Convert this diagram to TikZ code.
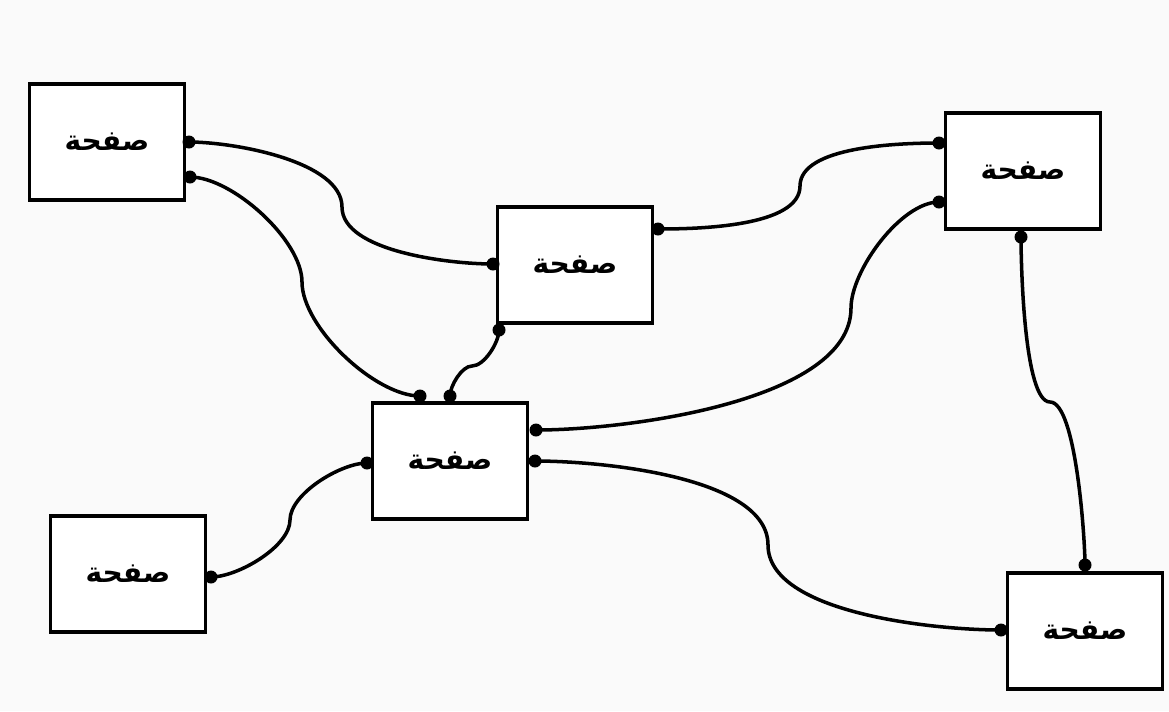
\documentclass[tikz,border=0pt]{standalone}
\usepackage{fontspec}
\newfontfamily\arabicfont[Script=Arabic]{DejaVu Sans}
\TeXXeTstate=1
\newcommand{\pagetxt}{{\arabicfont\bfseries\beginR صفحة\endR}}
\tikzset{
  pagebox/.style={draw,fill=white,line width=2pt,minimum width=3.1cm,minimum height=2.32cm,font=\fontsize{16}{19}\selectfont},
  link/.style={line width=2pt,looseness=0.7},
  port/.style={fill=black},
}
\begin{document}
\begin{tikzpicture}[x=0.02cm,y=-0.02cm]
			\fill[gray!4] (0,0) rectangle (1169,711);
			\useasboundingbox (0,0) rectangle (1169,711);
			% pages
			\node[pagebox] (A) at (107,142) {\pagetxt};
			\node[pagebox] (B) at (575,265) {\pagetxt};
			\node[pagebox] (C) at (450,461) {\pagetxt};
			\node[pagebox] (D) at (1023,171) {\pagetxt};
			\node[pagebox] (E) at (128,574) {\pagetxt};
			\node[pagebox] (F) at (1085,631) {\pagetxt};
			% ports
			\coordinate (a1) at (189,142); \coordinate (a2) at (190,177);
			\coordinate (b1) at (493,264); \coordinate (b2) at (499,330); \coordinate (b3) at (658,229);
			\coordinate (c1) at (420,396); \coordinate (c2) at (450,396);
			\coordinate (c3) at (536,430); \coordinate (c4) at (535,461); \coordinate (c5) at (367,463);
			\coordinate (d1) at (939,143); \coordinate (d2) at (939,202); \coordinate (d3) at (1021,237);
			\coordinate (e1) at (211,577);
			\coordinate (f1) at (1085,565); \coordinate (f2) at (1001,630);
			% bends
			\coordinate (m1) at (342,207); \coordinate (m2) at (302,282);
			\coordinate (m3) at (472,366); \coordinate (m4) at (800,186);
			\coordinate (m5) at (851,308); \coordinate (m6) at (1050,402);
			\coordinate (m7) at (768,545); \coordinate (m8) at (290,520);
			% links
			\draw[link] (a1) to[out=0,in=90] (m1) to[out=-90,in=180] (b1);
			\draw[link] (a2) to[out=0,in=90] (m2) to[out=-90,in=180] (c1);
			\draw[link] (b2) to[out=-90,in=0] (m3) to[out=180,in=90] (c2);
			\draw[link] (b3) to[out=0,in=-90] (m4) to[out=90,in=180] (d1);
			\draw[link] (d2) to[out=180,in=90] (m5) to[out=-90,in=0] (c3);
			\draw[link,looseness=0.4] (d3) to[out=-90,in=180] (m6) to[out=0,in=90] (f1);
			\draw[link] (c4) to[out=0,in=90] (m7) to[out=-90,in=180] (f2);
			\draw[link] (e1) to[out=0,in=-90] (m8) to[out=90,in=180] (c5);
			\foreach \p in {a1,a2,b1,b2,b3,c1,c2,c3,c4,c5,d1,d2,d3,e1,f1,f2}
				\fill[port] (\p) circle (6.5);
			\end{tikzpicture}
\end{document}
